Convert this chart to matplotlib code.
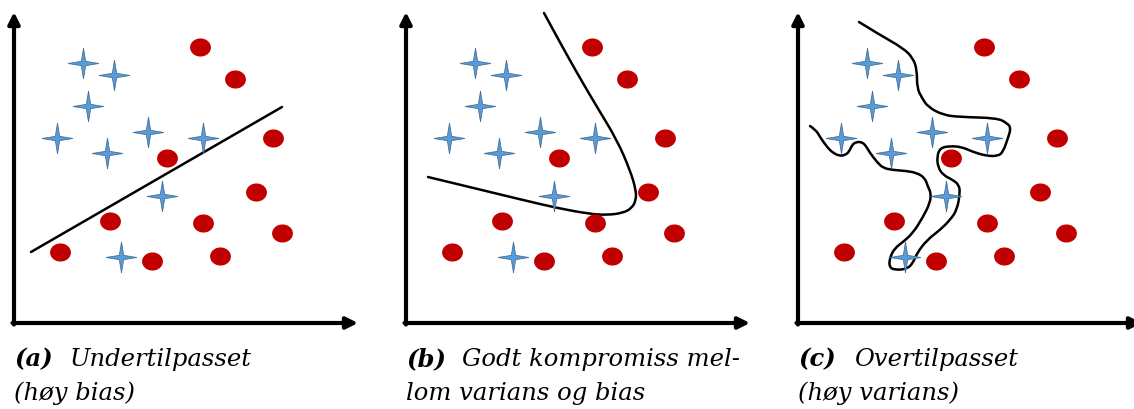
import numpy as np
import matplotlib
matplotlib.use("Agg")
import matplotlib.pyplot as plt
from matplotlib.path import Path
from matplotlib.patches import PathPatch

# shared points (local coords, origin at axis corner, pixel-ish units)
star_x = [69, 100, 74, 43, 134, 93, 189, 148, 107]
star_y = [260, 248, 217, 185, 191, 170, 185, 127, 66]
dot_x = [186, 221, 259, 153, 242, 96, 189, 268, 46, 138, 206]
dot_y = [276, 244, 185, 165, 131, 102, 100, 90, 71, 62, 67]

# decision boundaries
line_a_x = [17, 268]
line_a_y = [71, 216]

curve_b_x = [138, 151, 171, 191, 211, 224, 230, 230, 226, 217, 201, 184, 151, 117, 84, 51, 22]
curve_b_y = [310, 286, 250, 216, 183, 153, 133, 123, 115, 110, 108, 109, 115, 123, 131, 139, 146]

curve_c_x = [61, 82, 105, 115, 119, 119, 124, 130, 145, 162, 199, 209, 213, 210, 205, 200,
             189, 175, 164, 152, 142, 139, 140, 145, 155, 161, 162, 159, 152, 142, 129, 119,
             115, 109, 97, 91, 92, 97, 105, 115, 125, 132, 133, 130, 127, 119, 109, 95, 85,
             79, 72, 68, 64, 58, 54, 51, 47, 42, 35, 29, 22, 18, 12]
curve_c_y = [301, 288, 275, 265, 253, 235, 225, 216, 208, 206, 205, 200, 195, 185, 171, 167,
             167, 171, 176, 177, 175, 166, 156, 148, 143, 138, 130, 113, 103, 93, 83, 70,
             60, 54, 53, 56, 66, 75, 81, 90, 106, 120, 130, 136, 145, 150, 152, 153, 155,
             161, 170, 177, 181, 181, 178, 171, 168, 167, 170, 176, 186, 193, 197]

captions = [("(a)", "Undertilpasset", "(høy bias)"),
            ("(b)", "Godt kompromiss mel-", "lom varians og bias"),
            ("(c)", "Overtilpasset", "(høy varians)")]
curves = [(line_a_x, line_a_y), (curve_b_x, curve_b_y), (curve_c_x, curve_c_y)]


def smooth_path(xs, ys):
    # quadratic bezier through midpoints, control at each given point
    pts = list(zip(xs, ys))
    if len(pts) < 3:
        return Path(pts)
    verts = [pts[0]]
    codes = [Path.MOVETO]
    for i in range(1, len(pts) - 1):
        mid = ((pts[i][0] + pts[i + 1][0]) / 2, (pts[i][1] + pts[i + 1][1]) / 2)
        if i == len(pts) - 2:
            mid = pts[-1]
        verts += [pts[i], mid]
        codes += [Path.CURVE3, Path.CURVE3]
    return Path(verts, codes)


# 4-pointed star marker
ang = np.arange(8) * np.pi / 4
rad = np.where(np.arange(8) % 2 == 0, 1.0, 0.2)
star = Path(np.column_stack([rad * np.cos(ang), rad * np.sin(ang)]).tolist() + [[1, 0]], closed=True)
t = np.linspace(0, 2 * np.pi, 40)
oval = Path(np.column_stack([np.cos(t), 0.86 * np.sin(t)]), closed=True)

W, H = 1134, 409
fig = plt.figure(figsize=(W / 100, H / 100), dpi=100)
font = dict(fontsize=17.5, family="DejaVu Serif", style="italic")

for k in range(3):
    x0 = 14 + 392 * k
    ax = fig.add_axes([x0 / W, (H - 323) / H, 345 / W, 310 / H])
    ax.set_xlim(0, 345)
    ax.set_ylim(0, 310)
    ax.axis("off")

    arrow = dict(arrowstyle="-|>", lw=3, color="black", mutation_scale=17, shrinkA=0, shrinkB=0)
    ax.annotate("", xy=(344, 0), xytext=(-1.5, 0), arrowprops=arrow, annotation_clip=False)
    ax.annotate("", xy=(0, 311), xytext=(0, -1.5), arrowprops=arrow, annotation_clip=False)

    cx, cy = curves[k]
    ax.add_patch(PathPatch(smooth_path(cx, cy), fill=False, ec="black", lw=1.8,
                           capstyle="round", joinstyle="round", clip_on=False, zorder=2))

    ax.plot(dot_x, dot_y, ls="none", marker=oval, ms=14, color="#C00000", mec="#C00000", zorder=3)
    ax.plot(star_x, star_y, ls="none", marker=star, ms=22, color="#5B9BD5", mec="#41719C", mew=0.6, zorder=4)

    lab, l1, l2 = captions[k]
    fig.text(x0 / W, 1 - 366 / H, lab, weight="bold", **font)
    fig.text((x0 + 56) / W, 1 - 366 / H, l1, **font)
    fig.text(x0 / W, 1 - 400 / H, l2, **font)

fig.savefig("out.png", dpi=100)
